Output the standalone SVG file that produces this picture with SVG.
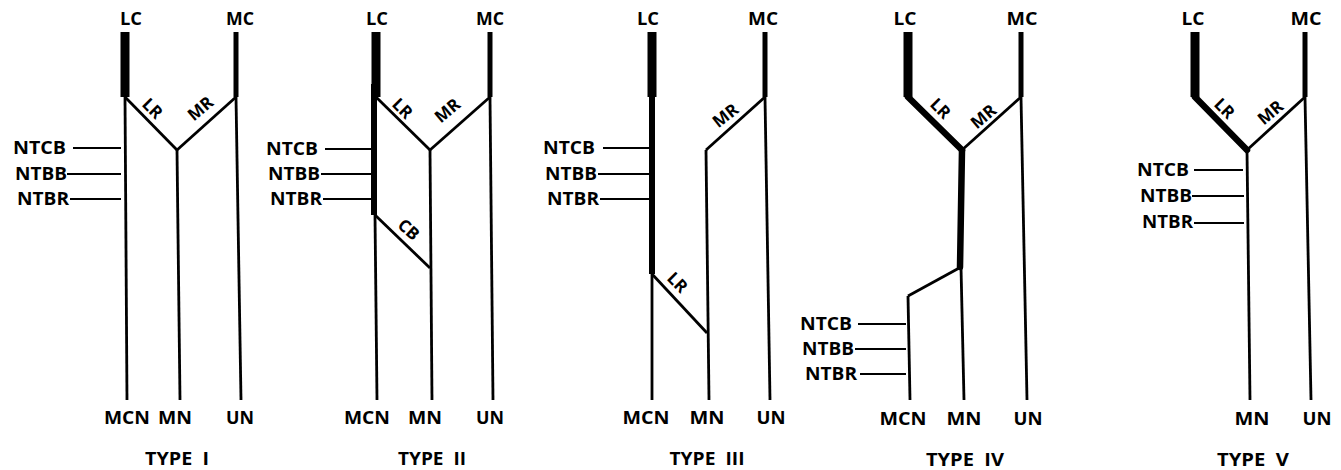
<svg xmlns="http://www.w3.org/2000/svg" width="1341" height="470" viewBox="0 0 1341 470">
<style>
.t{font-family:"Open Sans","Liberation Sans",sans-serif;font-weight:700;font-size:17.5px;fill:#000}
.m{text-anchor:middle}
.r{font-size:17px;text-anchor:middle;dominant-baseline:central}
.ln{stroke:#000;stroke-width:2.8;fill:none;stroke-linecap:butt}
.lc{stroke-width:9}
.mc{stroke-width:5}
.tk{stroke-width:6.5;stroke-linecap:round}
.nt{stroke-width:2}
</style>
<rect width="1341" height="470" fill="#fff"/>

<!-- TYPE I -->
<g id="type1">
  <g id="type1-connectors">
    <line class="ln lc" x1="125" y1="32" x2="125" y2="97"/>
    <line class="ln mc" x1="236" y1="32" x2="236" y2="97"/>
    <line class="ln" x1="125" y1="97" x2="177" y2="150"/>
    <line class="ln" x1="177" y1="150" x2="236" y2="97"/>
    <line class="ln" x1="125" y1="97" x2="127" y2="400"/>
    <line class="ln" x1="177" y1="150" x2="180" y2="400"/>
    <line class="ln" x1="236" y1="97" x2="241" y2="400"/>
    <line class="ln nt" x1="73" y1="148" x2="121" y2="148"/>
    <line class="ln nt" x1="67" y1="174" x2="121" y2="174"/>
    <line class="ln nt" x1="70" y1="199" x2="121" y2="199"/>
  </g>
  <g id="type1-labels">
    <text class="t m" x="131" y="25" textLength="22" lengthAdjust="spacingAndGlyphs">LC</text>
    <text class="t m" x="240" y="25" textLength="28" lengthAdjust="spacingAndGlyphs">MC</text>
    <text class="t r" transform="translate(153,108) rotate(45)">LR</text>
    <text class="t r" transform="translate(200,108) rotate(-40)">MR</text>
    <text class="t" x="13" y="154" textLength="53" lengthAdjust="spacingAndGlyphs">NTCB</text>
    <text class="t" x="15" y="180" textLength="52" lengthAdjust="spacingAndGlyphs">NTBB</text>
    <text class="t" x="17" y="205" textLength="52" lengthAdjust="spacingAndGlyphs">NTBR</text>
    <text class="t m" x="127" y="424" textLength="46" lengthAdjust="spacingAndGlyphs">MCN</text>
    <text class="t m" x="175" y="424" textLength="34" lengthAdjust="spacingAndGlyphs">MN</text>
    <text class="t m" x="240" y="424" textLength="28" lengthAdjust="spacingAndGlyphs">UN</text>
    <text class="t m" x="177" y="465" textLength="64" lengthAdjust="spacingAndGlyphs" xml:space="preserve">TYPE  I</text>
  </g>
</g>

<!-- TYPE II -->
<g id="type2">
  <g id="type2-connectors">
    <line class="ln lc" x1="376" y1="32" x2="376" y2="97"/>
    <line class="ln" style="stroke-width:6" x1="374" y1="84" x2="374" y2="215"/>
    <line class="ln mc" x1="490" y1="32" x2="490" y2="97"/>
    <line class="ln" x1="376" y1="97" x2="430" y2="150"/>
    <line class="ln" x1="430" y1="150" x2="490" y2="97"/>
    <line class="ln" x1="375" y1="215" x2="377" y2="400"/>
    <line class="ln" x1="375" y1="215" x2="430" y2="268"/>
    <line class="ln" x1="430" y1="150" x2="432" y2="400"/>
    <line class="ln" x1="490" y1="97" x2="493" y2="400"/>
    <line class="ln nt" x1="325" y1="149" x2="371" y2="149"/>
    <line class="ln nt" x1="321" y1="174" x2="371" y2="174"/>
    <line class="ln nt" x1="323" y1="199" x2="371" y2="199"/>
  </g>
  <g id="type2-labels">
    <text class="t m" x="377" y="25" textLength="22" lengthAdjust="spacingAndGlyphs">LC</text>
    <text class="t m" x="490" y="25" textLength="28" lengthAdjust="spacingAndGlyphs">MC</text>
    <text class="t r" transform="translate(403,108) rotate(45)">LR</text>
    <text class="t r" transform="translate(447,110) rotate(-40)">MR</text>
    <text class="t r" transform="translate(409,229) rotate(42)">CB</text>
    <text class="t" x="266" y="155" textLength="52" lengthAdjust="spacingAndGlyphs">NTCB</text>
    <text class="t" x="268" y="180" textLength="52" lengthAdjust="spacingAndGlyphs">NTBB</text>
    <text class="t" x="270" y="205" textLength="52" lengthAdjust="spacingAndGlyphs">NTBR</text>
    <text class="t m" x="367" y="424" textLength="46" lengthAdjust="spacingAndGlyphs">MCN</text>
    <text class="t m" x="425" y="424" textLength="34" lengthAdjust="spacingAndGlyphs">MN</text>
    <text class="t m" x="490" y="424" textLength="28" lengthAdjust="spacingAndGlyphs">UN</text>
    <text class="t m" x="432" y="465" textLength="68" lengthAdjust="spacingAndGlyphs" xml:space="preserve">TYPE  II</text>
  </g>
</g>

<!-- TYPE III -->
<g id="type3">
  <g id="type3-connectors">
    <line class="ln lc" x1="652" y1="32" x2="652" y2="97"/>
    <line class="ln" style="stroke-width:6" x1="652" y1="95" x2="652" y2="274"/>
    <line class="ln mc" x1="765" y1="32" x2="765" y2="97"/>
    <line class="ln" x1="765" y1="97" x2="706" y2="150"/>
    <line class="ln" x1="706" y1="150" x2="709" y2="400"/>
    <line class="ln" x1="652" y1="274" x2="707" y2="333"/>
    <line class="ln" x1="652" y1="274" x2="652" y2="400"/>
    <line class="ln" x1="765" y1="97" x2="770" y2="400"/>
    <line class="ln nt" x1="603" y1="148" x2="649" y2="148"/>
    <line class="ln nt" x1="598" y1="174" x2="649" y2="174"/>
    <line class="ln nt" x1="600" y1="199" x2="649" y2="199"/>
  </g>
  <g id="type3-labels">
    <text class="t m" x="648" y="25" textLength="22" lengthAdjust="spacingAndGlyphs">LC</text>
    <text class="t m" x="763" y="25" textLength="30" lengthAdjust="spacingAndGlyphs">MC</text>
    <text class="t r" transform="translate(725,115) rotate(-38)">MR</text>
    <text class="t r" transform="translate(678,282) rotate(45)">LR</text>
    <text class="t" x="543" y="154" textLength="52" lengthAdjust="spacingAndGlyphs">NTCB</text>
    <text class="t" x="545" y="180" textLength="52" lengthAdjust="spacingAndGlyphs">NTBB</text>
    <text class="t" x="547" y="205" textLength="52" lengthAdjust="spacingAndGlyphs">NTBR</text>
    <text class="t m" x="646" y="424" textLength="47" lengthAdjust="spacingAndGlyphs">MCN</text>
    <text class="t m" x="707" y="424" textLength="35" lengthAdjust="spacingAndGlyphs">MN</text>
    <text class="t m" x="771" y="424" textLength="29" lengthAdjust="spacingAndGlyphs">UN</text>
    <text class="t m" x="707" y="465" textLength="75" lengthAdjust="spacingAndGlyphs" xml:space="preserve">TYPE  III</text>
  </g>
</g>

<!-- TYPE IV -->
<g id="type4">
  <g id="type4-connectors">
    <line class="ln lc" x1="908" y1="32" x2="908" y2="97"/>
    <line class="ln tk" x1="908" y1="97" x2="962" y2="150"/>
    <line class="ln" x1="962" y1="150" x2="1021" y2="97"/>
    <line class="ln mc" x1="1021" y1="32" x2="1021" y2="97"/>
    <line class="ln tk" x1="962" y1="150" x2="960" y2="267"/>
    <line class="ln" x1="961" y1="267" x2="908" y2="296"/>
    <line class="ln" x1="908" y1="296" x2="910" y2="400"/>
    <line class="ln" x1="961" y1="267" x2="964" y2="400"/>
    <line class="ln" x1="1021" y1="97" x2="1027" y2="400"/>
    <line class="ln nt" x1="858" y1="324" x2="906" y2="324"/>
    <line class="ln nt" x1="855" y1="349" x2="906" y2="349"/>
    <line class="ln nt" x1="860" y1="374" x2="906" y2="374"/>
  </g>
  <g id="type4-labels">
    <text class="t m" x="905" y="25" textLength="23" lengthAdjust="spacingAndGlyphs">LC</text>
    <text class="t m" x="1022" y="25" textLength="31" lengthAdjust="spacingAndGlyphs">MC</text>
    <text class="t r" transform="translate(941,108) rotate(45)">LR</text>
    <text class="t r" transform="translate(983,116) rotate(-40)">MR</text>
    <text class="t" x="800" y="330" textLength="52" lengthAdjust="spacingAndGlyphs">NTCB</text>
    <text class="t" x="802" y="355" textLength="52" lengthAdjust="spacingAndGlyphs">NTBB</text>
    <text class="t" x="805" y="380" textLength="52" lengthAdjust="spacingAndGlyphs">NTBR</text>
    <text class="t m" x="903" y="425" textLength="47" lengthAdjust="spacingAndGlyphs">MCN</text>
    <text class="t m" x="964" y="425" textLength="35" lengthAdjust="spacingAndGlyphs">MN</text>
    <text class="t m" x="1028" y="425" textLength="29" lengthAdjust="spacingAndGlyphs">UN</text>
    <text class="t m" x="965" y="466" textLength="78" lengthAdjust="spacingAndGlyphs" xml:space="preserve">TYPE  IV</text>
  </g>
</g>

<!-- TYPE V -->
<g id="type5">
  <g id="type5-connectors">
    <line class="ln lc" x1="1195" y1="32" x2="1195" y2="97"/>
    <line class="ln tk" x1="1195" y1="97" x2="1247" y2="150"/>
    <line class="ln" x1="1247" y1="150" x2="1305" y2="97"/>
    <line class="ln mc" x1="1305" y1="32" x2="1305" y2="97"/>
    <line class="ln" x1="1247" y1="150" x2="1250" y2="400"/>
    <line class="ln" x1="1305" y1="97" x2="1311" y2="400"/>
    <line class="ln nt" x1="1194" y1="170" x2="1243" y2="170"/>
    <line class="ln nt" x1="1192" y1="196" x2="1244" y2="196"/>
    <line class="ln nt" x1="1194" y1="223" x2="1244" y2="223"/>
  </g>
  <g id="type5-labels">
    <text class="t m" x="1193" y="25" textLength="23" lengthAdjust="spacingAndGlyphs">LC</text>
    <text class="t m" x="1306" y="25" textLength="31" lengthAdjust="spacingAndGlyphs">MC</text>
    <text class="t r" transform="translate(1225,108) rotate(45)">LR</text>
    <text class="t r" transform="translate(1270,112) rotate(-40)">MR</text>
    <text class="t" x="1137" y="176" textLength="52" lengthAdjust="spacingAndGlyphs">NTCB</text>
    <text class="t" x="1140" y="202" textLength="52" lengthAdjust="spacingAndGlyphs">NTBB</text>
    <text class="t" x="1142" y="228" textLength="51" lengthAdjust="spacingAndGlyphs">NTBR</text>
    <text class="t m" x="1252" y="425" textLength="35" lengthAdjust="spacingAndGlyphs">MN</text>
    <text class="t m" x="1317" y="425" textLength="29" lengthAdjust="spacingAndGlyphs">UN</text>
    <text class="t m" x="1253" y="466" textLength="72" lengthAdjust="spacingAndGlyphs" xml:space="preserve">TYPE  V</text>
  </g>
</g>
</svg>
